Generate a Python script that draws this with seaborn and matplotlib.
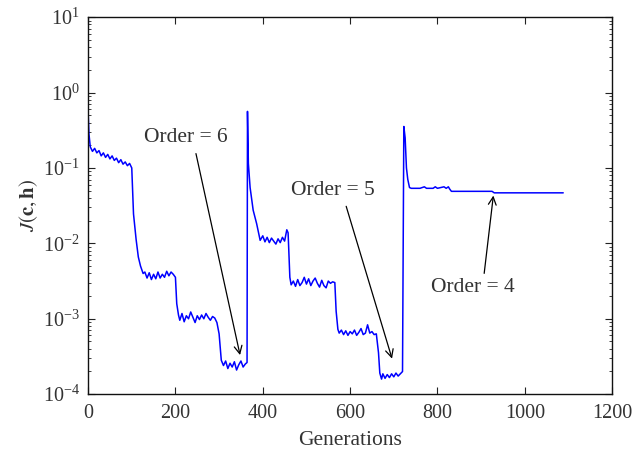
import numpy as np
import pandas as pd
import matplotlib
matplotlib.use('Agg')
import matplotlib.pyplot as plt
import seaborn as sns

# generation numbers and log10 J(c,h)
gens = [0, 2, 5, 10, 15, 20, 25, 30, 35, 40, 45, 50, 55, 60, 65, 70, 75, 80, 85, 90,
        95, 100, 104, 110, 115, 120, 126, 130, 135, 140, 145, 150, 155, 160, 165, 170,
        175, 180, 185, 190, 195, 200, 203, 207, 210, 215, 220, 225, 230, 235, 240, 245,
        250, 255, 260, 265, 270, 275, 280, 285, 290, 295, 300, 305, 310, 315, 320, 325,
        330, 335, 340, 345, 350, 355, 360, 364,
        365, 367, 371, 378, 386, 394, 400, 405, 410, 415, 420, 425, 430, 435, 440, 445,
        450, 455, 458, 462, 465, 470, 475, 480, 485, 490, 495, 500, 505, 510, 515, 520,
        525, 530, 535, 540, 545, 550, 555, 560, 565, 568, 572, 575, 580, 585, 590, 595,
        600, 605, 610, 615, 620, 625, 630, 635, 640, 645, 650, 655, 660, 665, 668, 672,
        675, 680, 685, 690, 695, 700, 705, 710, 715, 720,
        723, 726, 729, 732, 736, 740, 760, 770, 775, 790, 795, 800, 815, 820, 825, 828,
        832, 925, 930, 1088]
log_j = [-0.25, -0.55, -0.72, -0.78, -0.74, -0.80, -0.77, -0.84, -0.80, -0.86, -0.82,
         -0.88, -0.84, -0.90, -0.87, -0.93, -0.89, -0.95, -0.92, -0.97, -0.94, -1.00,
         -1.61, -1.95, -2.18, -2.30, -2.40, -2.38, -2.46, -2.39, -2.48, -2.41, -2.47,
         -2.38, -2.46, -2.41, -2.45, -2.37, -2.43, -2.38, -2.41, -2.45, -2.80, -2.95,
         -3.02, -2.93, -3.04, -2.96, -3.00, -2.91, -2.98, -3.05, -2.96, -3.01, -2.95,
         -3.00, -2.93, -2.98, -3.02, -2.97, -2.99, -3.05, -3.20, -3.55, -3.62, -3.56,
         -3.66, -3.59, -3.64, -3.57, -3.68, -3.61, -3.56, -3.64, -3.60, -3.58,
         -0.25, -0.94, -1.26, -1.56, -1.74, -1.96, -1.90, -1.98, -1.92, -1.99, -1.93,
         -1.97, -2.01, -1.94, -1.99, -1.92, -1.97, -1.82, -1.86, -2.45, -2.55, -2.50,
         -2.57, -2.48, -2.56, -2.52, -2.45, -2.54, -2.47, -2.56, -2.50, -2.46, -2.53,
         -2.58, -2.49, -2.56, -2.59, -2.50, -2.53, -2.51, -2.52, -2.90, -3.14, -3.19,
         -3.15, -3.21, -3.16, -3.22, -3.17, -3.20, -3.15, -3.22, -3.18, -3.13, -3.21,
         -3.19, -3.08, -3.19, -3.17, -3.21, -3.20, -3.45, -3.72, -3.80, -3.73, -3.79,
         -3.74, -3.78, -3.73, -3.77, -3.72, -3.76, -3.73, -3.70,
         -0.45, -0.60, -1.00, -1.15, -1.26, -1.27, -1.27, -1.25, -1.27, -1.27, -1.25,
         -1.27, -1.25, -1.27, -1.25, -1.28, -1.31, -1.31, -1.33, -1.33]

# annotations: label, where the label sits, arrow tail, arrow tip
labels = ['Order = 6', 'Order = 5', 'Order = 4']
label_xy = [(224, 0.25), (561, 0.050), (882, 0.0026)]
tail_xy = [(247, 0.155), (591, 0.031), (907, 0.0040)]
tip_xy = [(348, 3.3e-4), (696, 2.96e-4), (928, 0.043)]

df = pd.DataFrame({'gen': gens, 'J': 10.0 ** np.array(log_j)})

sns.set_style('ticks')
plt.rcParams['font.family'] = ['Liberation Serif', 'DejaVu Serif']
plt.rcParams['mathtext.fontset'] = 'stix'

fig = plt.figure(figsize=(6.43, 4.51), dpi=100)
ax = fig.add_axes([0.137, 0.126, 0.815, 0.836])

sns.lineplot(data=df, x='gen', y='J', color='#0000ff', linewidth=1.1, ax=ax,
             estimator=None, sort=False)
ax.set_yscale('log')
ax.set_xlim(0, 1200)
ax.set_ylim(1e-4, 1e1)
ax.set_xticks([0, 200, 400, 600, 800, 1000, 1200])
ax.set_yticks([1e-4, 1e-3, 1e-2, 1e-1, 1e0, 1e1])
ax.tick_params(which='both', direction='in', top=True, right=True, labelsize=14.5,
               colors='#222222', labelcolor='#333333')
ax.tick_params(which='major', length=5)
ax.tick_params(which='minor', length=2.5)
ax.tick_params(axis='x', pad=7)
ax.tick_params(axis='y', pad=6)
for sp in ax.spines.values():
    sp.set_linewidth(1.0)
    sp.set_color('#111111')

ax.set_xlabel('Generations', fontsize=15.5, color='#333333', labelpad=6)
ax.set_ylabel(r'$J(\mathbf{c},\mathbf{h})$', fontsize=15, color='#333333', labelpad=2)

for (tx, ty), (px, py) in zip(tail_xy, tip_xy):
    ax.annotate('', xy=(px, py), xytext=(tx, ty),
                arrowprops=dict(arrowstyle='->', color='black', lw=0.9,
                                mutation_scale=14, shrinkA=0, shrinkB=0))

for lab, (lx, ly) in zip(labels, label_xy):
    ax.text(lx, ly, lab, fontsize=15.5, ha='center', va='center', color='#333333')

fig.savefig('out.png', dpi=100)
